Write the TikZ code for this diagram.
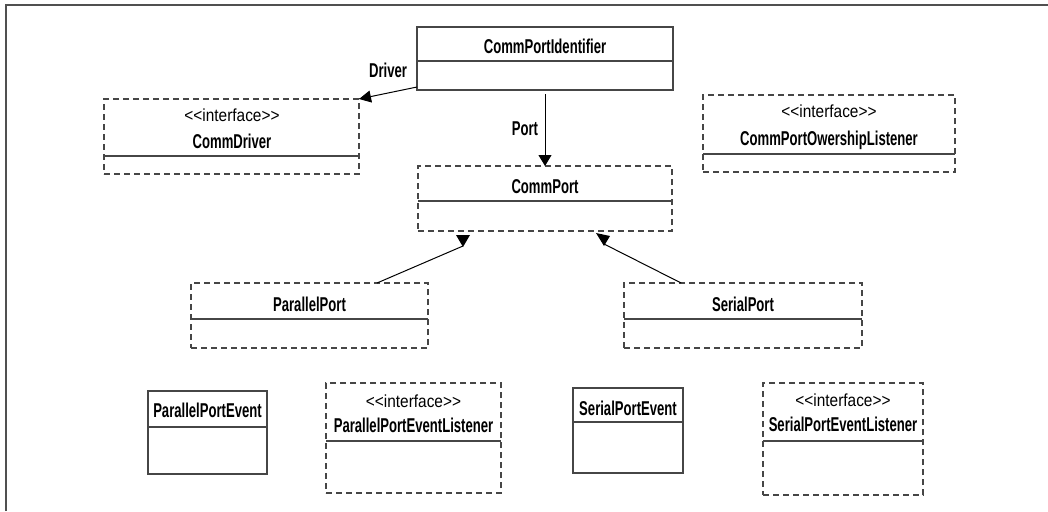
\documentclass[tikz,border=0pt]{standalone}
\usepackage{fontspec}
\setmainfont{Liberation Sans}
\newfontfamily\nmfont[FakeStretch=0.655]{Liberation Sans}
\newfontfamily\stfont[FakeStretch=0.88]{Liberation Sans}
\usetikzlibrary{arrows.meta,calc}
\definecolor{boxgray}{RGB}{70,70,70}
\definecolor{framegray}{RGB}{80,80,80}
\tikzset{
  box/.style={draw=boxgray, line width=1.3pt, inner sep=0pt, outer sep=0pt},
  ibox/.style={box, line width=1.1pt, dash pattern=on 6pt off 4pt},
  divl/.style={draw=boxgray, line width=1.4pt},
  nm/.style={font=\nmfont\bfseries\fontsize{20}{22}\selectfont, inner sep=0pt, anchor=base},
  st/.style={font=\stfont\fontsize{17.5}{20}\selectfont, inner sep=0pt, anchor=base},
  conn/.style={draw=black, line width=1pt},
  frameline/.style={draw=framegray, line width=2pt},
  headfill/.style={fill=black}
}
\newcommand\umlcls[7]{%
  \node[#2, minimum width={#5pt-#3pt}, minimum height={#6pt-#4pt}] (#1) at ({(#3+#5)/2},{(#4+#6)/2}) {};
  \draw[divl] (#1.west |- 0,#7) -- (#1.east |- 0,#7);
}
\newcommand\stereo{<\kern0pt<interface>\kern0pt>}
\begin{document}
\begin{tikzpicture}[x=1pt,y=-1pt]
\useasboundingbox (0,0) rectangle (1048,511);
% frame
\coordinate (fr0) at (6,511);
\coordinate (fr1) at (6,5);
\coordinate (fr2) at (1048,5);
\draw[frameline] (fr0) -- (fr1) -- (fr2);

% classes
\umlcls{cpi}{box}{417}{27}{673}{90}{61}
\umlcls{cd}{ibox}{104}{99}{359}{174}{156}
\umlcls{own}{ibox}{703}{95}{955}{172}{154}
\umlcls{cport}{ibox}{418}{166}{672}{231}{201}
\umlcls{pp}{ibox}{191}{283}{428}{348}{319}
\umlcls{sp}{ibox}{624}{283}{862}{348}{319}
\umlcls{ppe}{box}{148}{391}{267}{474}{427}
\umlcls{ppel}{ibox}{326}{383}{501}{493}{441}
\umlcls{spe}{box}{573}{388}{683}{473}{422}
\umlcls{spel}{ibox}{763}{383}{923}{495}{441}

% texts
\node[nm] (t-cpi) at (545,53) {CommPortIdentifier};
\node[st] (s-cd) at (232,121) {\stereo};
\node[nm] (t-cd) at (232,148) {CommDriver};
\node[st] (s-own) at (829,117) {\stereo};
\node[nm] (t-own) at (829,145) {CommPortOwershipListener};
\node[nm] (t-cport) at (545,193) {CommPort};
\node[nm] (t-pp) at (309.5,311) {ParallelPort};
\node[nm] (t-sp) at (743,311) {SerialPort};
\node[nm] (t-ppe) at (207.5,417) {ParallelPortEvent};
\node[st] (s-ppel) at (413.5,407) {\stereo};
\node[nm] (t-ppel) at (413.5,432) {ParallelPortEventListener};
\node[nm] (t-spe) at (628,415) {SerialPortEvent};
\node[st] (s-spel) at (843,406) {\stereo};
\node[nm] (t-spel) at (843,431) {SerialPortEventListener};

% labels
\node[nm] (lbl-driver) at (388,77) {Driver};
\node[nm] (lbl-port) at (525,135) {Port};

% associations
\draw[conn, -{Triangle[length=12pt,width=12pt]}] ([yshift=3pt]cpi.south west) -- (cd.north east);
\draw[conn, -{Triangle[length=11pt,width=13pt]}] ([yshift=-4pt]cpi.south) -- (cport.north);

% generalisations
\coordinate (pp-a) at ($(pp.north west)!0.785!(pp.north east)$);
\coordinate (inh-l) at (463,246);
\draw[conn] (pp-a) -- (inh-l);
\fill[headfill] (456,235) -- (470,235) -- (463,247) -- cycle;
\coordinate (sp-a) at ($(sp.north west)!0.24!(sp.north east)$);
\coordinate (inh-r) at (604,244);
\draw[conn] (sp-a) -- (inh-r);
\fill[headfill] (596,233) -- (610,236) -- (604,246) -- cycle;
\end{tikzpicture}
\end{document}
